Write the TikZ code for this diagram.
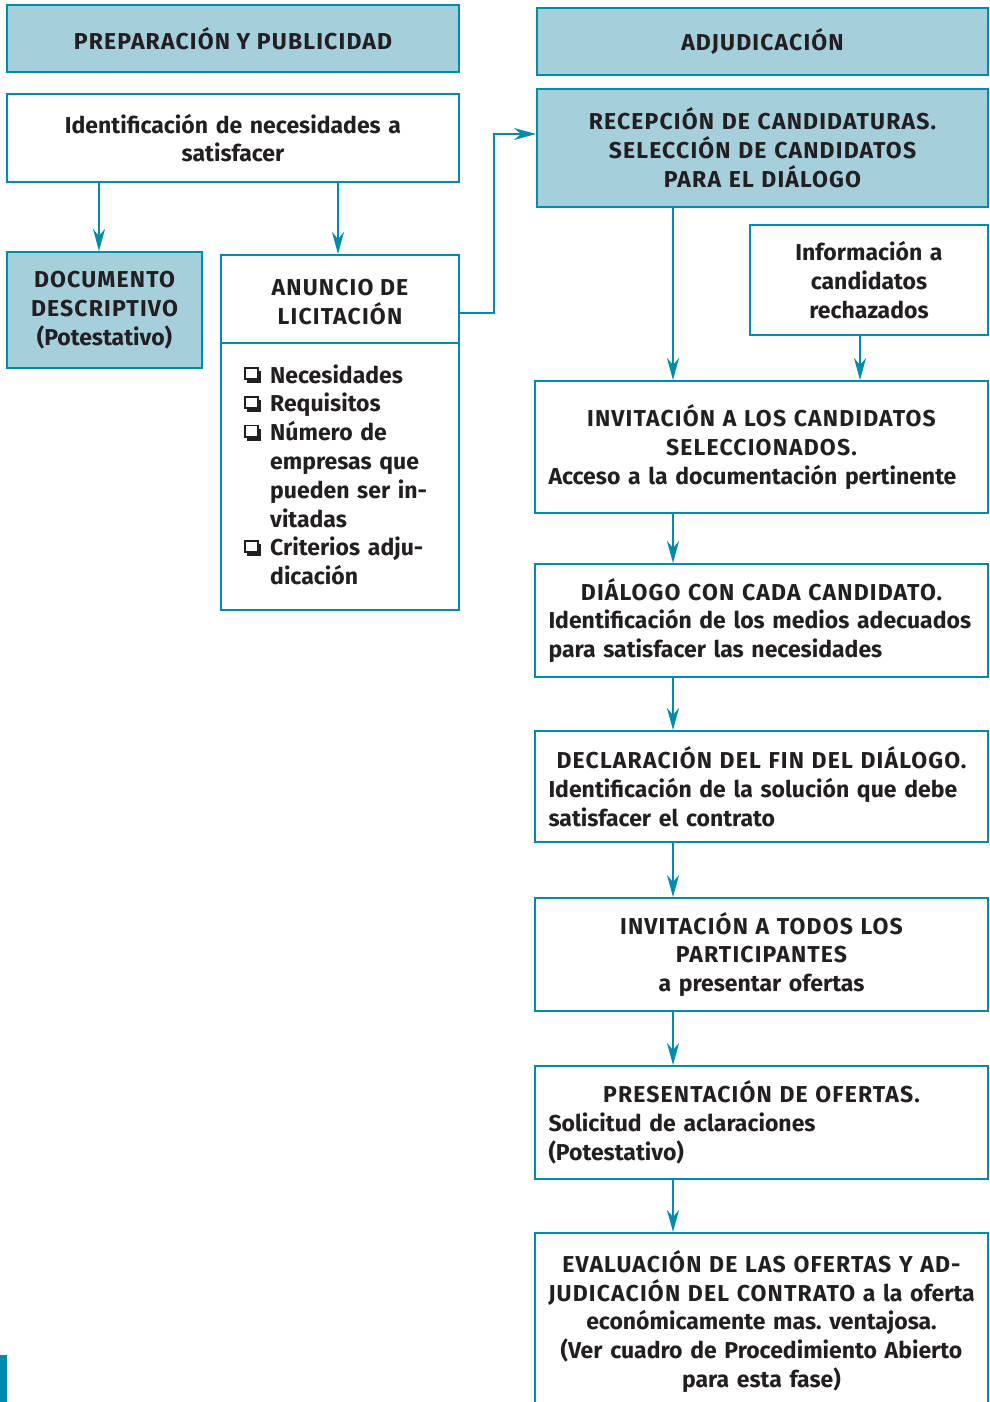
\documentclass[tikz,border=0pt]{standalone}
\usepackage{fontspec}
\setmainfont{Fira Sans}
\newfontfamily\capsfam{Fira Sans}[LetterSpace=5]
\usetikzlibrary{arrows.meta}

\definecolor{lineblue}{RGB}{0,140,170}
\definecolor{headfill}{RGB}{166,207,220}
\definecolor{ink}{RGB}{35,31,32}

\frenchspacing
\newcommand\boxfont{\bfseries\fontsize{23}{28.8}\selectfont}
\newcommand\K[1]{{\capsfam #1}}
\newcommand\midline[1]{\makebox[\linewidth][c]{#1}}
\newcommand\chk{\makebox[26pt][l]{\tikz[baseline=0pt,x=1pt,y=1pt]{%
  \fill[ink] (3,0) rectangle (17,12);
  \filldraw[fill=white,draw=ink,line width=1.6pt] (0.8,3.8) rectangle (14,15);}}}
\newcommand\ind{\hspace*{26pt}}

\tikzset{
  box/.style={draw=lineblue, line width=2pt, rectangle, inner sep=0pt,
              font=\boxfont, text=ink},
  head/.style={box, fill=headfill},
  flow/.style={draw=lineblue, line width=2pt,
               -{Stealth[length=22pt,width=12pt,inset=7pt]}},
}

\begin{document}
\begin{tikzpicture}[x=1pt,y=-1pt]
\useasboundingbox (0,0) rectangle (989,1402);
\clip (0,0) rectangle (989,1402);

% left column: preparation
\node[head, minimum width=452pt, minimum height=67pt] (prep) at (233,38.5)
  {\K{PREPARACIÓN Y PUBLICIDAD}};
\node[box, minimum width=452pt, minimum height=88pt, text width=430pt, align=center]
  (ident) at (233,138) {Identificación de necesidades a\\satisfacer};
\node[head, minimum width=195pt, minimum height=116pt, text width=190pt, align=center]
  (doc) at (104.5,310) {\K{DOCUMENTO}\\\K{DESCRIPTIVO}\\(Potestativo)};
\node[box, minimum width=238pt, minimum height=355pt] (anuncio) at (340,432.5) {};
\node[font=\boxfont, text=ink, align=center, inner sep=0pt] (anhead) at (340,302)
  {\K{ANUNCIO DE}\\\K{LICITACIÓN}};
\draw[lineblue, line width=2pt] (anuncio.west |- 0,343) -- (anuncio.east |- 0,343);
\node[font=\boxfont, text=ink, text width=200pt, align=left, inner sep=0pt,
      anchor=base west] (lista) at (244,383)
  {\chk Necesidades\\
   \chk Requisitos\\
   \chk Número de\\
   \ind empresas que\\
   \ind pueden ser in-\\
   \ind vitadas\\
   \chk Criterios adju-\\
   \ind dicación};

% right column: award
\node[head, minimum width=451pt, minimum height=67pt] (adj) at (762.5,41.5)
  {\K{ADJUDICACIÓN}};
\node[head, minimum width=451pt, minimum height=118pt, text width=426pt, align=center]
  (recep) at (762.5,148)
  {\K{RECEPCIÓN DE CANDIDATURAS.}\\\K{SELECCIÓN DE CANDIDATOS}\\\K{PARA EL DIÁLOGO}};
\node[box, minimum width=238pt, minimum height=110pt, text width=230pt, align=center]
  (info) at (869,280) {Información a\\candidatos\\rechazados};
\node[box, minimum width=453pt, minimum height=132pt, text width=426pt, align=left]
  (inv1) at (761.5,447)
  {\midline{\K{INVITACIÓN A LOS CANDIDATOS}}\\\midline{\K{SELECCIONADOS.}}\\Acceso a la documentación pertinente};
\node[box, minimum width=453pt, minimum height=113pt, text width=426pt, align=left]
  (dial) at (761.5,620.5)
  {\midline{\K{DIÁLOGO CON CADA CANDIDATO.}}\\Identificación de los medios adecuados\\para satisfacer las necesidades};
\node[box, minimum width=453pt, minimum height=111pt, text width=426pt, align=left]
  (decl) at (761.5,786.5)
  {\midline{\K{DECLARACIÓN DEL FIN DEL DIÁLOGO.}}\\Identificación de la solución que debe\\satisfacer el contrato};
\node[box, minimum width=453pt, minimum height=113pt, text width=426pt, align=center]
  (inv2) at (761.5,954.5)
  {\K{INVITACIÓN A TODOS LOS}\\\K{PARTICIPANTES}\\a presentar ofertas};
\node[box, minimum width=453pt, minimum height=113pt, text width=426pt, align=left]
  (pres) at (761.5,1122.5)
  {\midline{\K{PRESENTACIÓN DE OFERTAS.}}\\Solicitud de aclaraciones\\(Potestativo)};
\node[box, minimum width=453pt, minimum height=177pt, text width=440pt, align=center]
  (eval) at (761.5,1321.5)
  {\K{EVALUACIÓN DE LAS OFERTAS Y AD-}\\\K{JUDICACIÓN DEL CONTRATO} a la oferta\\económicamente mas. ventajosa.\\(Ver cuadro de Procedimiento Abierto\\para esta fase)};

% connectors
\coordinate (xdoc) at (99,0);
\coordinate (xan) at (338,0);
\coordinate (xmain) at (673,0);
\coordinate (xinfo) at (860,0);
\coordinate (xturn) at (494,0);

\draw[flow] (ident.south -| xdoc) -- (doc.north -| xdoc);
\draw[flow] (ident.south -| xan) -- (anuncio.north -| xan);
\draw[flow] (anuncio.east |- 0,313) -| (xturn |- 0,313) |- (recep.west |- 0,134);
\draw[flow] (recep.south -| xmain) -- (inv1.north -| xmain);
\draw[flow] (info.south -| xinfo) -- (inv1.north -| xinfo);
\draw[flow] (inv1.south -| xmain) -- (dial.north -| xmain);
\draw[flow] (dial.south -| xmain) -- (decl.north -| xmain);
\draw[flow] (decl.south -| xmain) -- (inv2.north -| xmain);
\draw[flow] (inv2.south -| xmain) -- (pres.north -| xmain);
\draw[flow] (pres.south -| xmain) -- (eval.north -| xmain);

% edge marker
\fill[lineblue] (0,1355) rectangle (7,1402);
\end{tikzpicture}
\end{document}
